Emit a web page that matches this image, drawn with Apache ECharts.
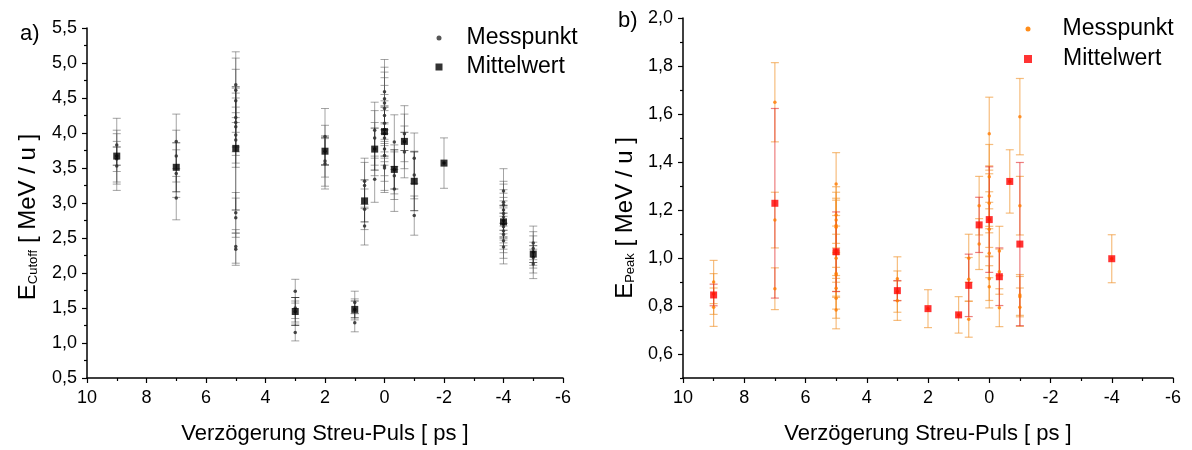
<!DOCTYPE html>
<html>
<head>
<meta charset="utf-8">
<script src="https://cdn.jsdelivr.net/npm/echarts@6/dist/echarts.min.js"></script>
<style>
html,body{margin:0;padding:0;background:#fff;}
#chart{width:1192px;height:450px;}
</style>
</head>
<body>
<div id="chart"></div>
<script>
// ---------- Data ----------
// Panel a) E_Cutoff : each entry [delay (ps), value (MeV/u), error]
const cutoffMesspunkt = [
  [9, 3.83, 0.38], [9, 3.67, 0.37], [9, 3.63, 0.36], [9, 3.53, 0.35],
  [7, 3.88, 0.39], [7, 3.67, 0.37], [7, 3.42, 0.34], [7, 3.07, 0.31],
  [5, 4.69, 0.47], [5, 4.61, 0.46], [5, 4.46, 0.45], [5, 4.22, 0.42], [5, 4.15, 0.42], [5, 4.09, 0.41],
  [5, 3.97, 0.40], [5, 3.90, 0.39], [5, 2.86, 0.29], [5, 2.79, 0.28], [5, 2.38, 0.24], [5, 2.34, 0.23],
  [3, 1.74, 0.17], [3, 1.50, 0.15], [3, 1.45, 0.15], [3, 1.15, 0.12],
  [2, 3.95, 0.40], [2, 3.74, 0.37], [2, 3.60, 0.36], [2, 3.56, 0.36],
  [1, 1.58, 0.16], [1, 1.48, 0.15], [1, 1.29, 0.13],
  [0.67, 3.31, 0.33], [0.67, 3.25, 0.33], [0.67, 2.91, 0.29], [0.67, 2.67, 0.27],
  [0.33, 4.04, 0.40], [0.33, 3.93, 0.39], [0.33, 3.77, 0.38], [0.33, 3.34, 0.33],
  [0, 4.59, 0.46], [0, 4.49, 0.45], [0, 4.43, 0.44], [0, 4.35, 0.44], [0, 4.25, 0.43], [0, 4.14, 0.41],
  [0, 4.05, 0.41], [0, 3.99, 0.40], [0, 3.93, 0.39], [0, 3.77, 0.38], [0, 3.68, 0.37], [0, 3.53, 0.35], [0, 3.50, 0.35],
  [-0.33, 3.87, 0.39], [-0.33, 3.48, 0.35], [-0.33, 3.39, 0.34], [-0.33, 3.20, 0.32],
  [-0.67, 3.99, 0.40], [-0.67, 3.88, 0.39], [-0.67, 3.73, 0.37],
  [-1, 3.64, 0.36], [-1, 3.40, 0.34], [-1, 2.82, 0.28],
  [-2, 3.57, 0.36],
  [-4, 3.17, 0.32], [-4, 3.01, 0.30], [-4, 2.97, 0.30], [-4, 2.90, 0.29], [-4, 2.85, 0.29], [-4, 2.80, 0.28],
  [-4, 2.75, 0.28], [-4, 2.70, 0.27], [-4, 2.66, 0.27], [-4, 2.60, 0.26], [-4, 2.55, 0.26], [-4, 2.46, 0.25], [-4, 2.37, 0.24],
  [-5, 2.43, 0.24], [-5, 2.35, 0.24], [-5, 2.30, 0.23], [-5, 2.22, 0.22], [-5, 2.13, 0.21]
];
const cutoffMittelwert = [
  [9, 3.67, 0.13], [7, 3.51, 0.35], [5, 3.78, 0.88], [3, 1.45, 0.20], [2, 3.74, 0.20],
  [1, 1.48, 0.12], [0.67, 3.03, 0.30], [0.33, 3.77, 0.30], [0, 4.02, 0.35], [-0.33, 3.48, 0.28],
  [-0.67, 3.88, 0.13], [-1, 3.31, 0.42], [-2, 3.57, 0], [-4, 2.73, 0.23], [-5, 2.27, 0.12]
];
// Panel b) E_Peak
const peakMesspunkt = [
  [9, 0.900, 0.090], [9, 0.850, 0.085], [9, 0.795, 0.080],
  [7, 1.649, 0.165], [7, 1.158, 0.116], [7, 0.872, 0.087],
  [5, 1.308, 0.131], [5, 1.179, 0.118], [5, 1.158, 0.116], [5, 1.135, 0.114], [5, 1.128, 0.113], [5, 1.030, 0.103],
  [5, 0.999, 0.100], [5, 0.935, 0.094], [5, 0.929, 0.093], [5, 0.874, 0.087], [5, 0.832, 0.083], [5, 0.783, 0.078],
  [3, 0.914, 0.091], [3, 0.860, 0.086], [3, 0.822, 0.082],
  [2, 0.789, 0.079],
  [1, 0.763, 0.076],
  [0.67, 0.999, 0.100], [0.67, 0.911, 0.091], [0.67, 0.745, 0.075],
  [0.33, 1.218, 0.122], [0.33, 1.058, 0.106],
  [0, 1.518, 0.152], [0, 1.339, 0.134], [0, 1.258, 0.126], [0, 1.228, 0.123], [0, 1.160, 0.116],
  [0, 1.120, 0.112], [0, 1.020, 0.102], [0, 0.914, 0.091], [0, 0.880, 0.088],
  [-0.33, 1.029, 0.103], [-0.33, 0.943, 0.094], [-0.33, 0.793, 0.079],
  [-0.67, 1.319, 0.132],
  [-1, 1.589, 0.159], [-1, 1.218, 0.122], [-1, 0.846, 0.085], [-1, 0.839, 0.084], [-1, 0.795, 0.080],
  [-4, 0.997, 0.100]
];
const peakMittelwert = [
  [9, 0.846, 0.045], [7, 1.228, 0.395], [5, 1.026, 0.166], [3, 0.864, 0.042], [2, 0.789, 0],
  [1, 0.763, 0], [0.67, 0.886, 0.130], [0.33, 1.138, 0.115], [0, 1.160, 0.220], [-0.33, 0.922, 0.120],
  [-0.67, 1.319, 0], [-1, 1.058, 0.340], [-4, 0.997, 0]
];
// Tick values
const yTicksA = [0.5, 1.0, 1.5, 2.0, 2.5, 3.0, 3.5, 4.0, 4.5, 5.0, 5.5];
const yTicksB = [0.6, 0.8, 1.0, 1.2, 1.4, 1.6, 1.8, 2.0];
const yMinorB = [0.5, 0.7, 0.9, 1.1, 1.3, 1.5, 1.7, 1.9];
const seriesNames = ['Messpunkt', 'Mittelwert'];

// ---------- Chart ----------
const FONT = 'Liberation Sans, Arial, sans-serif';
const fmt = v => Number(v).toFixed(1).replace('.', ',');

function errRender(color, width) {
  return function (params, api) {
    const x = api.value(0), y = api.value(1), e = api.value(2);
    if (!e) return null;
    const t = api.coord([x, y + e]);
    const b = api.coord([x, y - e]);
    const hw = 4;
    const st = { stroke: color, lineWidth: width, fill: null };
    return {
      type: 'group',
      children: [
        { type: 'line', shape: { x1: t[0], y1: t[1], x2: b[0], y2: b[1] }, style: st },
        { type: 'line', shape: { x1: t[0] - hw, y1: t[1], x2: t[0] + hw, y2: t[1] }, style: st },
        { type: 'line', shape: { x1: b[0] - hw, y1: b[1], x2: b[0] + hw, y2: b[1] }, style: st }
      ]
    };
  };
}

function xAxisCfg(gi) {
  return {
    gridIndex: gi, type: 'value', min: -6, max: 10, interval: 2, inverse: true,
    name: 'Verzögerung Streu-Puls [ ps ]', nameLocation: 'middle', nameGap: 45,
    nameTextStyle: { fontSize: 22, color: '#000', fontFamily: FONT },
    axisLine: { onZero: false, lineStyle: { color: '#000', width: 1.5 } },
    axisTick: { length: 5, lineStyle: { color: '#000', width: 1.2 } },
    minorTick: { show: true, splitNumber: 2, length: 3, lineStyle: { color: '#000', width: 1.2 } },
    splitLine: { show: false },
    axisLabel: { fontSize: 18, color: '#000', fontFamily: FONT, margin: 11 }
  };
}

function legendCfg(name, icon, color, size, left, top, gap) {
  return {
    data: [{ name: name, icon: icon, itemStyle: { color: color } }],
    left: left, top: top, itemWidth: size, itemHeight: size, padding: 0, selectedMode: false,
    textStyle: { fontSize: 23, color: '#000', fontFamily: FONT, lineHeight: 26, padding: [0, 0, 0, gap] }
  };
}

const SQUARE = 'path://M0,0L10,0L10,10L0,10Z';

const chart = echarts.init(document.getElementById('chart'), null, { renderer: 'canvas' });
chart.setOption({
  animation: false,
  backgroundColor: '#fff',
  textStyle: { fontFamily: FONT },
  title: [
    { text: 'a)', left: 20, top: 23, padding: 0, textStyle: { fontSize: 22, fontWeight: 'normal', color: '#000', fontFamily: FONT } },
    { text: 'b)', left: 618, top: 10, padding: 0, textStyle: { fontSize: 22, fontWeight: 'normal', color: '#000', fontFamily: FONT } }
  ],
  legend: [
    legendCfg(seriesNames[0], 'circle', '#444', 5, 436.5, 25, 20),
    legendCfg(seriesNames[1], SQUARE, '#000', 7, 435.5, 54, 19),
    legendCfg(seriesNames[0], 'circle', '#ff8000', 5, 1025.5, 16, 27),
    legendCfg(seriesNames[1], SQUARE, '#ff0000', 8, 1024, 46, 26)
  ],
  grid: [
    { left: 87, top: 28, width: 476, height: 352 },
    { left: 683, top: 18, width: 490, height: 360 }
  ],
  xAxis: [xAxisCfg(0), xAxisCfg(1)],
  yAxis: [
    {
      gridIndex: 0, type: 'value', min: 0.5, max: 5.5, interval: 0.5,
      name: '{e|E}{s|Cutoff}{e| [ MeV / u ]}', nameLocation: 'middle', nameGap: 47, nameRotate: 90,
      nameTextStyle: { color: '#000', padding: [0, 28, 0, 0],
        rich: { e: { fontSize: 24, color: '#000', fontFamily: FONT, lineHeight: 28, verticalAlign: 'bottom' },
                s: { fontSize: 13, color: '#000', fontFamily: FONT, lineHeight: 13, verticalAlign: 'bottom' } } },
      axisLine: { show: true, onZero: false, lineStyle: { color: '#000', width: 1.5 } },
      axisTick: { length: 5, lineStyle: { color: '#000', width: 1.2 } },
      minorTick: { show: true, splitNumber: 2, length: 3, lineStyle: { color: '#000', width: 1.2 } },
      splitLine: { show: false },
      axisLabel: { fontSize: 18, color: '#000', fontFamily: FONT, margin: 10, formatter: fmt, customValues: yTicksA }
    },
    {
      gridIndex: 1, type: 'value', min: 0.5, max: 2.0,
      name: '{e|E}{s|Peak}{e| [ MeV / u ]}', nameLocation: 'middle', nameGap: 46, nameRotate: 90,
      nameTextStyle: { color: '#000', padding: [0, 40, 0, 0],
        rich: { e: { fontSize: 24, color: '#000', fontFamily: FONT, lineHeight: 28, verticalAlign: 'bottom' },
                s: { fontSize: 13, color: '#000', fontFamily: FONT, lineHeight: 13, verticalAlign: 'bottom' } } },
      axisLine: { show: true, onZero: false, lineStyle: { color: '#000', width: 1.5 } },
      axisTick: { length: 5, customValues: yTicksB, lineStyle: { color: '#000', width: 1.2 } },
      splitLine: { show: false },
      axisLabel: { fontSize: 18, color: '#000', fontFamily: FONT, margin: 10, formatter: fmt, customValues: yTicksB }
    },
    {
      gridIndex: 1, type: 'value', min: 0.5, max: 2.0, position: 'left',
      axisLine: { show: false, onZero: false },
      axisTick: { show: true, length: 3, customValues: yMinorB, lineStyle: { color: '#000', width: 1.2 } },
      axisLabel: { show: false }, splitLine: { show: false }
    }
  ],
  series: [
    { name: 'errA1', type: 'custom', xAxisIndex: 0, yAxisIndex: 0, data: cutoffMesspunkt,
      encode: { x: 0, y: 1 }, renderItem: errRender('rgba(90,90,90,0.55)', 1), z: 1, silent: true },
    { name: 'errA2', type: 'custom', xAxisIndex: 0, yAxisIndex: 0, data: cutoffMittelwert,
      encode: { x: 0, y: 1 }, renderItem: errRender('rgba(30,30,30,0.7)', 1), z: 2, silent: true },
    { name: seriesNames[0], type: 'scatter', xAxisIndex: 0, yAxisIndex: 0, data: cutoffMesspunkt,
      symbol: 'circle', symbolSize: 3.5, itemStyle: { color: '#333', opacity: 0.9 }, z: 3 },
    { name: seriesNames[1], type: 'scatter', xAxisIndex: 0, yAxisIndex: 0, data: cutoffMittelwert,
      symbol: 'rect', symbolSize: 7, itemStyle: { color: '#000' }, z: 4 },

    { name: 'errB1', type: 'custom', xAxisIndex: 1, yAxisIndex: 1, data: peakMesspunkt,
      encode: { x: 0, y: 1 }, renderItem: errRender('rgba(240,145,40,0.6)', 1.2), z: 1, silent: true },
    { name: 'errB2', type: 'custom', xAxisIndex: 1, yAxisIndex: 1, data: peakMittelwert,
      encode: { x: 0, y: 1 }, renderItem: errRender('rgba(225,40,40,0.6)', 1.2), z: 2, silent: true },
    { name: seriesNames[0], type: 'scatter', xAxisIndex: 1, yAxisIndex: 1, data: peakMesspunkt,
      symbol: 'circle', symbolSize: 3.5, itemStyle: { color: '#ff7a00' }, z: 3 },
    { name: seriesNames[1], type: 'scatter', xAxisIndex: 1, yAxisIndex: 1, data: peakMittelwert,
      symbol: 'rect', symbolSize: 7, itemStyle: { color: '#ff0000' }, z: 4 }
  ]
});
</script>
</body>
</html>
